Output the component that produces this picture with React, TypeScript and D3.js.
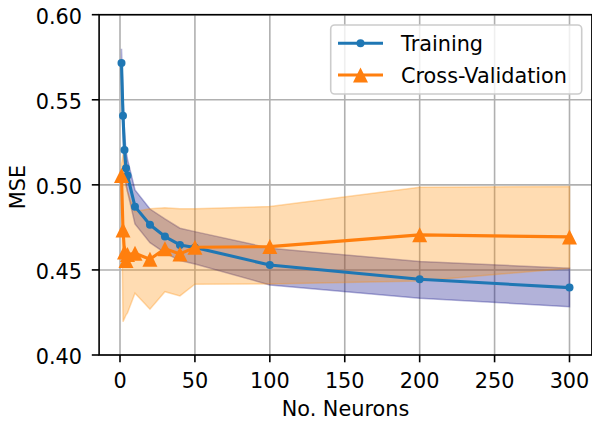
import React from "react";
import * as d3 from "d3";

// neurons in the hidden layer
const neurons = [1, 2, 3, 4, 5, 10, 20, 30, 40, 50, 100, 200, 300];

// training curve + band
const trainMse = [0.5716, 0.5406, 0.5205, 0.5097, 0.5055, 0.4872, 0.4765, 0.4696, 0.4647, 0.4632, 0.4529, 0.4445, 0.4396];
const trainHi = [0.58, 0.552, 0.531, 0.52, 0.515, 0.497, 0.4858, 0.48, 0.4745, 0.4725, 0.4628, 0.4549, 0.451];
const trainLo = [0.5635, 0.531, 0.511, 0.5, 0.496, 0.477, 0.466, 0.46, 0.4555, 0.4535, 0.4412, 0.4333, 0.4284];

// cross-validation curve + band
const cvMse = [0.5055, 0.4735, 0.4605, 0.4555, 0.459, 0.4598, 0.4563, 0.4625, 0.4594, 0.4633, 0.4637, 0.4706, 0.4694];
const cvHi = [0.512, 0.518, 0.508, 0.5, 0.496, 0.4843, 0.4859, 0.4865, 0.4859, 0.4859, 0.4873, 0.4986, 0.499];
const cvLo = [0.494, 0.4196, 0.4215, 0.4235, 0.4247, 0.4363, 0.4269, 0.4372, 0.4347, 0.4416, 0.4418, 0.4435, 0.451];

const xTicks = [0, 50, 100, 150, 200, 250, 300];
const yTicks = [0.4, 0.45, 0.5, 0.55, 0.6];

const W = 592;
const H = 421;
const FONT = "DejaVu Sans, sans-serif";
const FS = 20.8;

export default function App() {
  const x = d3.scaleLinear().domain([-13.95, 314.95]).range([99.1, 591.9]);
  const y = d3.scaleLinear().domain([0.4, 0.6]).range([355, 14.7]);

  const idx = d3.range(neurons.length);
  const line = (vals: number[]) =>
    d3.line<number>().x((i) => x(neurons[i])).y((i) => y(vals[i]))(idx) || "";
  const band = (lo: number[], hi: number[]) =>
    d3
      .area<number>()
      .x((i) => x(neurons[i]))
      .y0((i) => y(lo[i]))
      .y1((i) => y(hi[i]))(idx) || "";

  // matplotlib '^' marker: box of side s centred on the point
  const triPath = (cx: number, cy: number, s: number) =>
    `M${cx},${cy - s / 2}L${cx - s / 2},${cy + s / 2}L${cx + s / 2},${cy + s / 2}Z`;

  const blue = "#1f77b4";
  const orange = "#ff7f0e";

  return (
    <svg
      width={W}
      height={H}
      style={{ position: "absolute", left: 0, top: 0, background: "#fff" }}
      fontFamily={FONT}
    >
      <rect width={W} height={H} fill="#fff" />
      {/* grid */}
      {xTicks.map((t) => (
        <line key={"gx" + t} x1={x(t)} x2={x(t)} y1={y(0.4)} y2={y(0.6)} stroke="#b0b0b0" strokeWidth={1.6} />
      ))}
      {yTicks.map((t) => (
        <line key={"gy" + t} x1={x(-13.95)} x2={x(314.95)} y1={y(t)} y2={y(t)} stroke="#b0b0b0" strokeWidth={1.6} />
      ))}

      {/* bands */}
      <path d={band(trainLo, trainHi)} fill="navy" fillOpacity={0.3} stroke="navy" strokeOpacity={0.3} strokeWidth={1.5} />
      <path d={band(cvLo, cvHi)} fill="darkorange" fillOpacity={0.3} stroke="darkorange" strokeOpacity={0.3} strokeWidth={1.5} />

      {/* lines */}
      <path d={line(trainMse)} fill="none" stroke={blue} strokeWidth={3.1} strokeLinejoin="round" />
      {neurons.map((n, i) => (
        <circle key={"tm" + i} cx={x(n)} cy={y(trainMse[i])} r={4} fill={blue} />
      ))}
      <path d={line(cvMse)} fill="none" stroke={orange} strokeWidth={3.1} strokeLinejoin="round" />
      {neurons.map((n, i) => (
        <path key={"cm" + i} d={triPath(x(n), y(cvMse[i]), 15)} fill={orange} />
      ))}

      {/* spines */}
      <rect x={99.1} y={14.7} width={591.9 - 99.1} height={355 - 14.7} fill="none" stroke="#000" strokeWidth={1.6} />

      {/* x ticks */}
      {xTicks.map((t) => (
        <g key={"xt" + t}>
          <line x1={x(t)} x2={x(t)} y1={355} y2={362.3} stroke="#000" strokeWidth={1.6} />
          <text x={x(t)} y={387.5} textAnchor="middle" fontSize={FS} fill="#000">
            {t}
          </text>
        </g>
      ))}
      {/* y ticks */}
      {yTicks.map((t) => (
        <g key={"yt" + t}>
          <line x1={91.8} x2={99.1} y1={y(t)} y2={y(t)} stroke="#000" strokeWidth={1.6} />
          <text x={82} y={y(t) + 9} textAnchor="end" fontSize={FS} fill="#000">
            {t.toFixed(2)}
          </text>
        </g>
      ))}

      <text x={(99.1 + 591.9) / 2} y={416} textAnchor="middle" fontSize={FS} fill="#000">
        No. Neurons
      </text>
      <text transform={`translate(25,187) rotate(-90)`} textAnchor="middle" fontSize={FS} fill="#000">
        MSE
      </text>

      {/* legend */}
      <rect x={330.7} y={25} width={251} height={69} rx={4} fill="#fff" fillOpacity={0.8} stroke="#cccccc" strokeWidth={1.6} />
      <line x1={338} x2={383} y1={43.3} y2={43.3} stroke={blue} strokeWidth={3.1} />
      <circle cx={360.5} cy={43.3} r={4} fill={blue} />
      <text x={401} y={50.8} fontSize={FS} fill="#000">
        Training
      </text>
      <line x1={338} x2={383} y1={75} y2={75} stroke={orange} strokeWidth={3.1} />
      <path d={triPath(360.5, 75, 15)} fill={orange} />
      <text x={401} y={82.5} fontSize={FS} fill="#000">
        Cross-Validation
      </text>
    </svg>
  );
}
